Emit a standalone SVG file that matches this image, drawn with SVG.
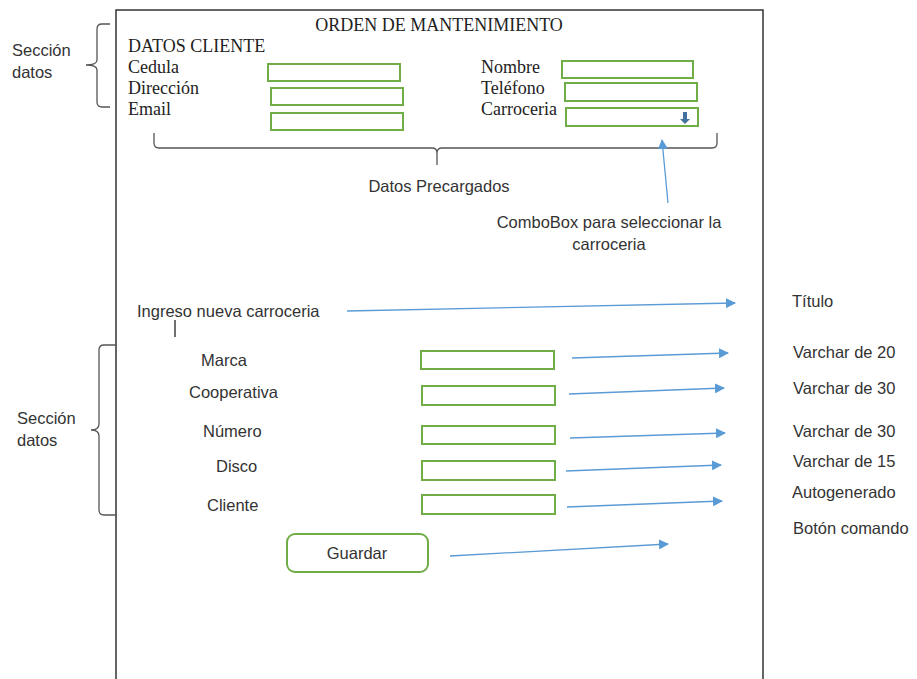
<svg xmlns="http://www.w3.org/2000/svg" width="917" height="679" viewBox="0 0 917 679">
  <defs>
    <marker id="ah" viewBox="0 0 10 10" refX="9" refY="5" markerWidth="10" markerHeight="10" markerUnits="userSpaceOnUse" orient="auto">
      <path d="M0,0 L10,5 L0,10 z" fill="#5b9bd5"/>
    </marker>
    <style>
      .serif { font-family: "Liberation Serif", "Times New Roman", serif; font-size: 18px; fill: #222; }
      .sans { font-family: "Liberation Sans", Arial, sans-serif; font-size: 16.5px; fill: #333; }
      .field { fill: #fff; stroke: #70ad47; stroke-width: 2; }
      .brace { fill: none; stroke: #555; stroke-width: 1.3; }
      .conn { fill: none; stroke: #5b9bd5; stroke-width: 1.3; marker-end: url(#ah); }
      .frame { fill: none; stroke: #333; stroke-width: 1.5; }
    </style>
  </defs>
  <rect width="917" height="679" fill="#fff"/>

  <!-- form frame (open at the bottom) -->
  <path class="frame" d="M116,679 V10 H763 V679"/>

  <!-- header: client data -->
  <g id="header">
    <text class="serif" x="439" y="31" text-anchor="middle" font-size="19.5">ORDEN DE MANTENIMIENTO</text>
    <text class="serif" x="128" y="52" font-size="19">DATOS CLIENTE</text>
  </g>
  <g id="cedula">
    <text class="serif" x="128" y="73">Cedula</text>
    <rect class="field" x="268" y="64" width="132" height="17"/>
  </g>
  <g id="direccion">
    <text class="serif" x="128" y="94">Dirección</text>
    <rect class="field" x="271" y="88" width="132" height="17"/>
  </g>
  <g id="email">
    <text class="serif" x="128" y="115">Email</text>
    <rect class="field" x="271" y="113" width="132" height="17"/>
  </g>
  <g id="nombre">
    <text class="serif" x="481" y="73">Nombre</text>
    <rect class="field" x="562" y="61" width="131" height="17"/>
  </g>
  <g id="telefono">
    <text class="serif" x="481" y="94">Teléfono</text>
    <rect class="field" x="565" y="83" width="132" height="18"/>
  </g>
  <g id="carroceria">
    <text class="serif" x="481" y="115">Carroceria</text>
    <rect class="field" x="566" y="108" width="132" height="18"/>
    <path d="M683,112 h4 v7 h3 l-5,5 l-5,-5 h3 z" fill="#41719c"/>
  </g>

  <!-- top-left section label -->
  <g id="seccion-datos-1">
    <path class="brace" d="M110,24 H102 Q97,24 97,29 V60 Q97,65 86,65 Q97,65 97,70 V102 Q97,107 102,107 H110"/>
    <text class="sans" x="12" y="56">Sección</text>
    <text class="sans" x="12" y="78">datos</text>
  </g>

  <!-- preloaded data brace -->
  <g id="datos-precargados">
    <path class="brace" d="M154,133 V143 Q154,148 159,148 H432 Q437,148 437,153 V165 M437,153 Q437,148 442,148 H712 Q717,148 717,143 V133"/>
    <text class="sans" x="439" y="192" text-anchor="middle">Datos Precargados</text>
  </g>

  <g id="combobox-note">
    <text class="sans" x="609" y="228" text-anchor="middle">ComboBox para seleccionar la</text>
    <text class="sans" x="609" y="250" text-anchor="middle">carroceria</text>
  </g>

  <!-- new body entry form -->
  <g id="titulo">
    <text class="sans" x="137" y="317">Ingreso nueva carroceria</text>
    <line x1="175" y1="320" x2="175" y2="337" stroke="#222" stroke-width="1.3"/>
  </g>

  <g id="seccion-datos-2">
    <path class="brace" d="M116,345 H104 Q99,345 99,350 V424 Q99,430 91,430 Q99,430 99,436 V510 Q99,515 104,515 H116"/>
    <text class="sans" x="17" y="424">Sección</text>
    <text class="sans" x="17" y="446">datos</text>
  </g>

  <g id="marca">
    <text class="sans" x="201" y="366">Marca</text>
    <rect class="field" x="421" y="351" width="133" height="18"/>
  </g>
  <g id="cooperativa">
    <text class="sans" x="189" y="398">Cooperativa</text>
    <rect class="field" x="422" y="386" width="133" height="19"/>
  </g>
  <g id="numero">
    <text class="sans" x="203" y="437">Número</text>
    <rect class="field" x="422" y="426" width="133" height="18"/>
  </g>
  <g id="disco">
    <text class="sans" x="216" y="472">Disco</text>
    <rect class="field" x="422" y="461" width="133" height="19"/>
  </g>
  <g id="cliente">
    <text class="sans" x="207" y="511">Cliente</text>
    <rect class="field" x="422" y="495" width="133" height="19"/>
  </g>

  <g id="guardar">
    <rect class="field" x="287" y="534" width="141" height="38" rx="8"/>
    <text class="sans" x="357" y="559" text-anchor="middle">Guardar</text>
  </g>

  <!-- type annotations -->
  <g id="anotaciones">
    <text class="sans" x="792" y="307">Título</text>
    <text class="sans" x="793" y="358">Varchar de 20</text>
    <text class="sans" x="793" y="394">Varchar de 30</text>
    <text class="sans" x="793" y="437">Varchar de 30</text>
    <text class="sans" x="793" y="467">Varchar de 15</text>
    <text class="sans" x="792" y="498">Autogenerado</text>
    <text class="sans" x="793" y="534">Botón comando</text>
  </g>

  <!-- connectors -->
  <g id="connectors">
    <line class="conn" x1="668" y1="203" x2="662" y2="140"/>
    <line class="conn" x1="347" y1="311" x2="735" y2="303"/>
    <line class="conn" x1="572" y1="358" x2="728" y2="353"/>
    <line class="conn" x1="569" y1="394" x2="724" y2="388"/>
    <line class="conn" x1="570" y1="438" x2="725" y2="433"/>
    <line class="conn" x1="566" y1="471" x2="721" y2="465"/>
    <line class="conn" x1="567" y1="507" x2="722" y2="501"/>
    <line class="conn" x1="450" y1="556" x2="668" y2="544"/>
  </g>
</svg>
